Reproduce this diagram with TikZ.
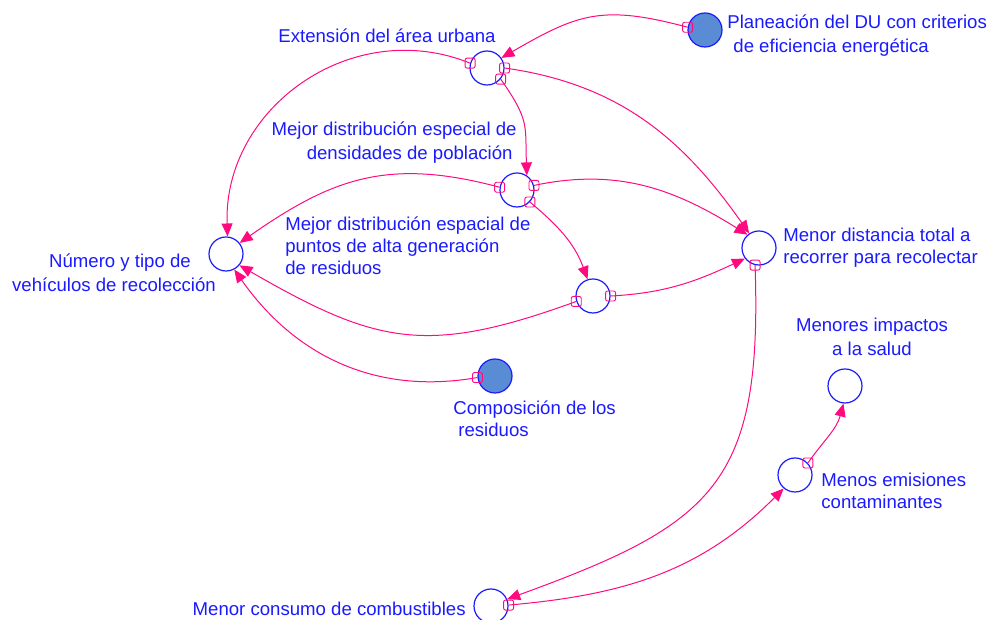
\documentclass[tikz,border=0pt]{standalone}
\usepackage{fontspec}
\setmainfont{Liberation Sans}
\usepackage{xcolor}
\definecolor{LinkPink}{HTML}{FF0A7F}
\definecolor{VarBlue}{HTML}{1A1AFF}
\definecolor{ConstFill}{HTML}{5A8CD5}
\usepackage{tikz}
\usetikzlibrary{arrows.meta}

\begin{document}
\begin{tikzpicture}[
  x=0.5pt, y=0.5pt,
  var/.style={
    circle,
    draw=VarBlue,
    line width=0.6pt,
    minimum size=17pt,
    inner sep=0pt
  },
  const/.style={var, fill=ConstFill},
  lbl/.style={
    text=VarBlue,
    inner sep=0pt,
    font=\fontsize{9.3}{11}\selectfont
  },
  tallbl/.style={lbl, font=\fontsize{9.3}{12}\selectfont},
  link/.style={
    draw=LinkPink,
    line width=0.5pt,
    -{Triangle[length=6.5pt,width=5.5pt]}
  },
  tailmark/.style={
    draw=LinkPink,
    line width=0.45pt,
    rectangle,
    rounded corners=1pt,
    minimum size=5pt,
    inner sep=0pt
  }
]

\useasboundingbox (0,0) rectangle (990,620);

% =========================================================
% VARIABLES
% =========================================================

\node[var] (urban) at (487,552) {};
\node[const] (plan) at (705,590) {};
\node[var] (dens) at (517,430) {};
\node[var] (fleet) at (226,366) {};
\node[var] (points) at (593,324) {};
\node[var] (dist) at (759,372) {};
\node[const] (comp) at (495,244) {};
\node[var] (health) at (845,234) {};
\node[var] (emis) at (795,145) {};
\node[var] (fuel) at (491,14) {};

% =========================================================
% LABELS (base = last line)
% =========================================================

\node[lbl, anchor=base] (urbanlbl) at (387,577)
{Extensión del área urbana};

\node[tallbl, anchor=base west, align=left] (planlbl) at (727,567)
{Planeación del DU con criterios\\\hspace*{3pt}de eficiencia energética};

\node[tallbl, anchor=base east, align=right] (denslbl) at (517,460)
{Mejor distribución especial de\\densidades de población\hspace*{2pt}};

\node[tallbl, anchor=base, align=center] (fleetlbl) at (114,328)
{\hspace*{6pt}Número y tipo de\\vehículos de recolección};

\node[lbl, anchor=base west, align=left] (pointslbl) at (285,345)
{Mejor distribución espacial de\\puntos de alta generación\\de residuos};

\node[lbl, anchor=base west, align=left] (distlbl) at (783,356)
{Menor distancia total a\\recorrer para recolectar};

\node[lbl, anchor=base west, align=left] (complbl) at (453,183)
{Composición de los\\\hspace*{2.5pt}residuos};

\node[tallbl, anchor=base, align=center] (healthlbl) at (872,264)
{Menores impactos\\a la salud};

\node[lbl, anchor=base west, align=left] (emislbl) at (821,111)
{Menos emisiones\\contaminantes};

\node[lbl, anchor=base east] (fuellbl) at (466,4)
{Menor consumo de combustibles};

% =========================================================
% LINKS
% =========================================================

\draw[link] (plan.171) to[out=165,in=30,looseness=1.2] node[tailmark,pos=0]{} (urban.35);
\draw[link] (urban.164) to[out=158,in=92,looseness=1.1] node[tailmark,pos=0]{} (fleet.85);
\draw[link] (urban.-39) to[out=-55,in=92,looseness=1.3] node[tailmark,pos=0]{} (dens.56);
\draw[link] (urban.0) to[out=-8,in=125] node[tailmark,pos=0]{} (dist.124);

\draw[link] (dens.171) to[out=165,in=35,looseness=1.1] node[tailmark,pos=0]{} (fleet.39);
\draw[link] (dens.15) to[out=12,in=148] node[tailmark,pos=0]{} (dist.131);
\draw[link] (dens.-43) to[out=-40,in=110] node[tailmark,pos=0]{} (points.108);

\draw[link] (points.198) to[out=200,in=-30,looseness=1.2] node[tailmark,pos=0]{} (fleet.-40);
\draw[link] (points.0) to[out=3,in=205] node[tailmark,pos=0]{} (dist.217);

\draw[link] (comp.185) to[out=190,in=-55] node[tailmark,pos=0]{} (fleet.-62);

% reduction chain
\draw[link] (dist.-103) to[out=-88,in=20,looseness=1.35] node[tailmark,pos=0]{} (fuel.23);
\draw[link] (fuel.3) to[out=5,in=225] node[tailmark,pos=0]{} (emis.230);
\draw[link] (emis.43) to[out=55,in=255] node[tailmark,pos=0]{} (health.265);

\end{tikzpicture}
\end{document}
